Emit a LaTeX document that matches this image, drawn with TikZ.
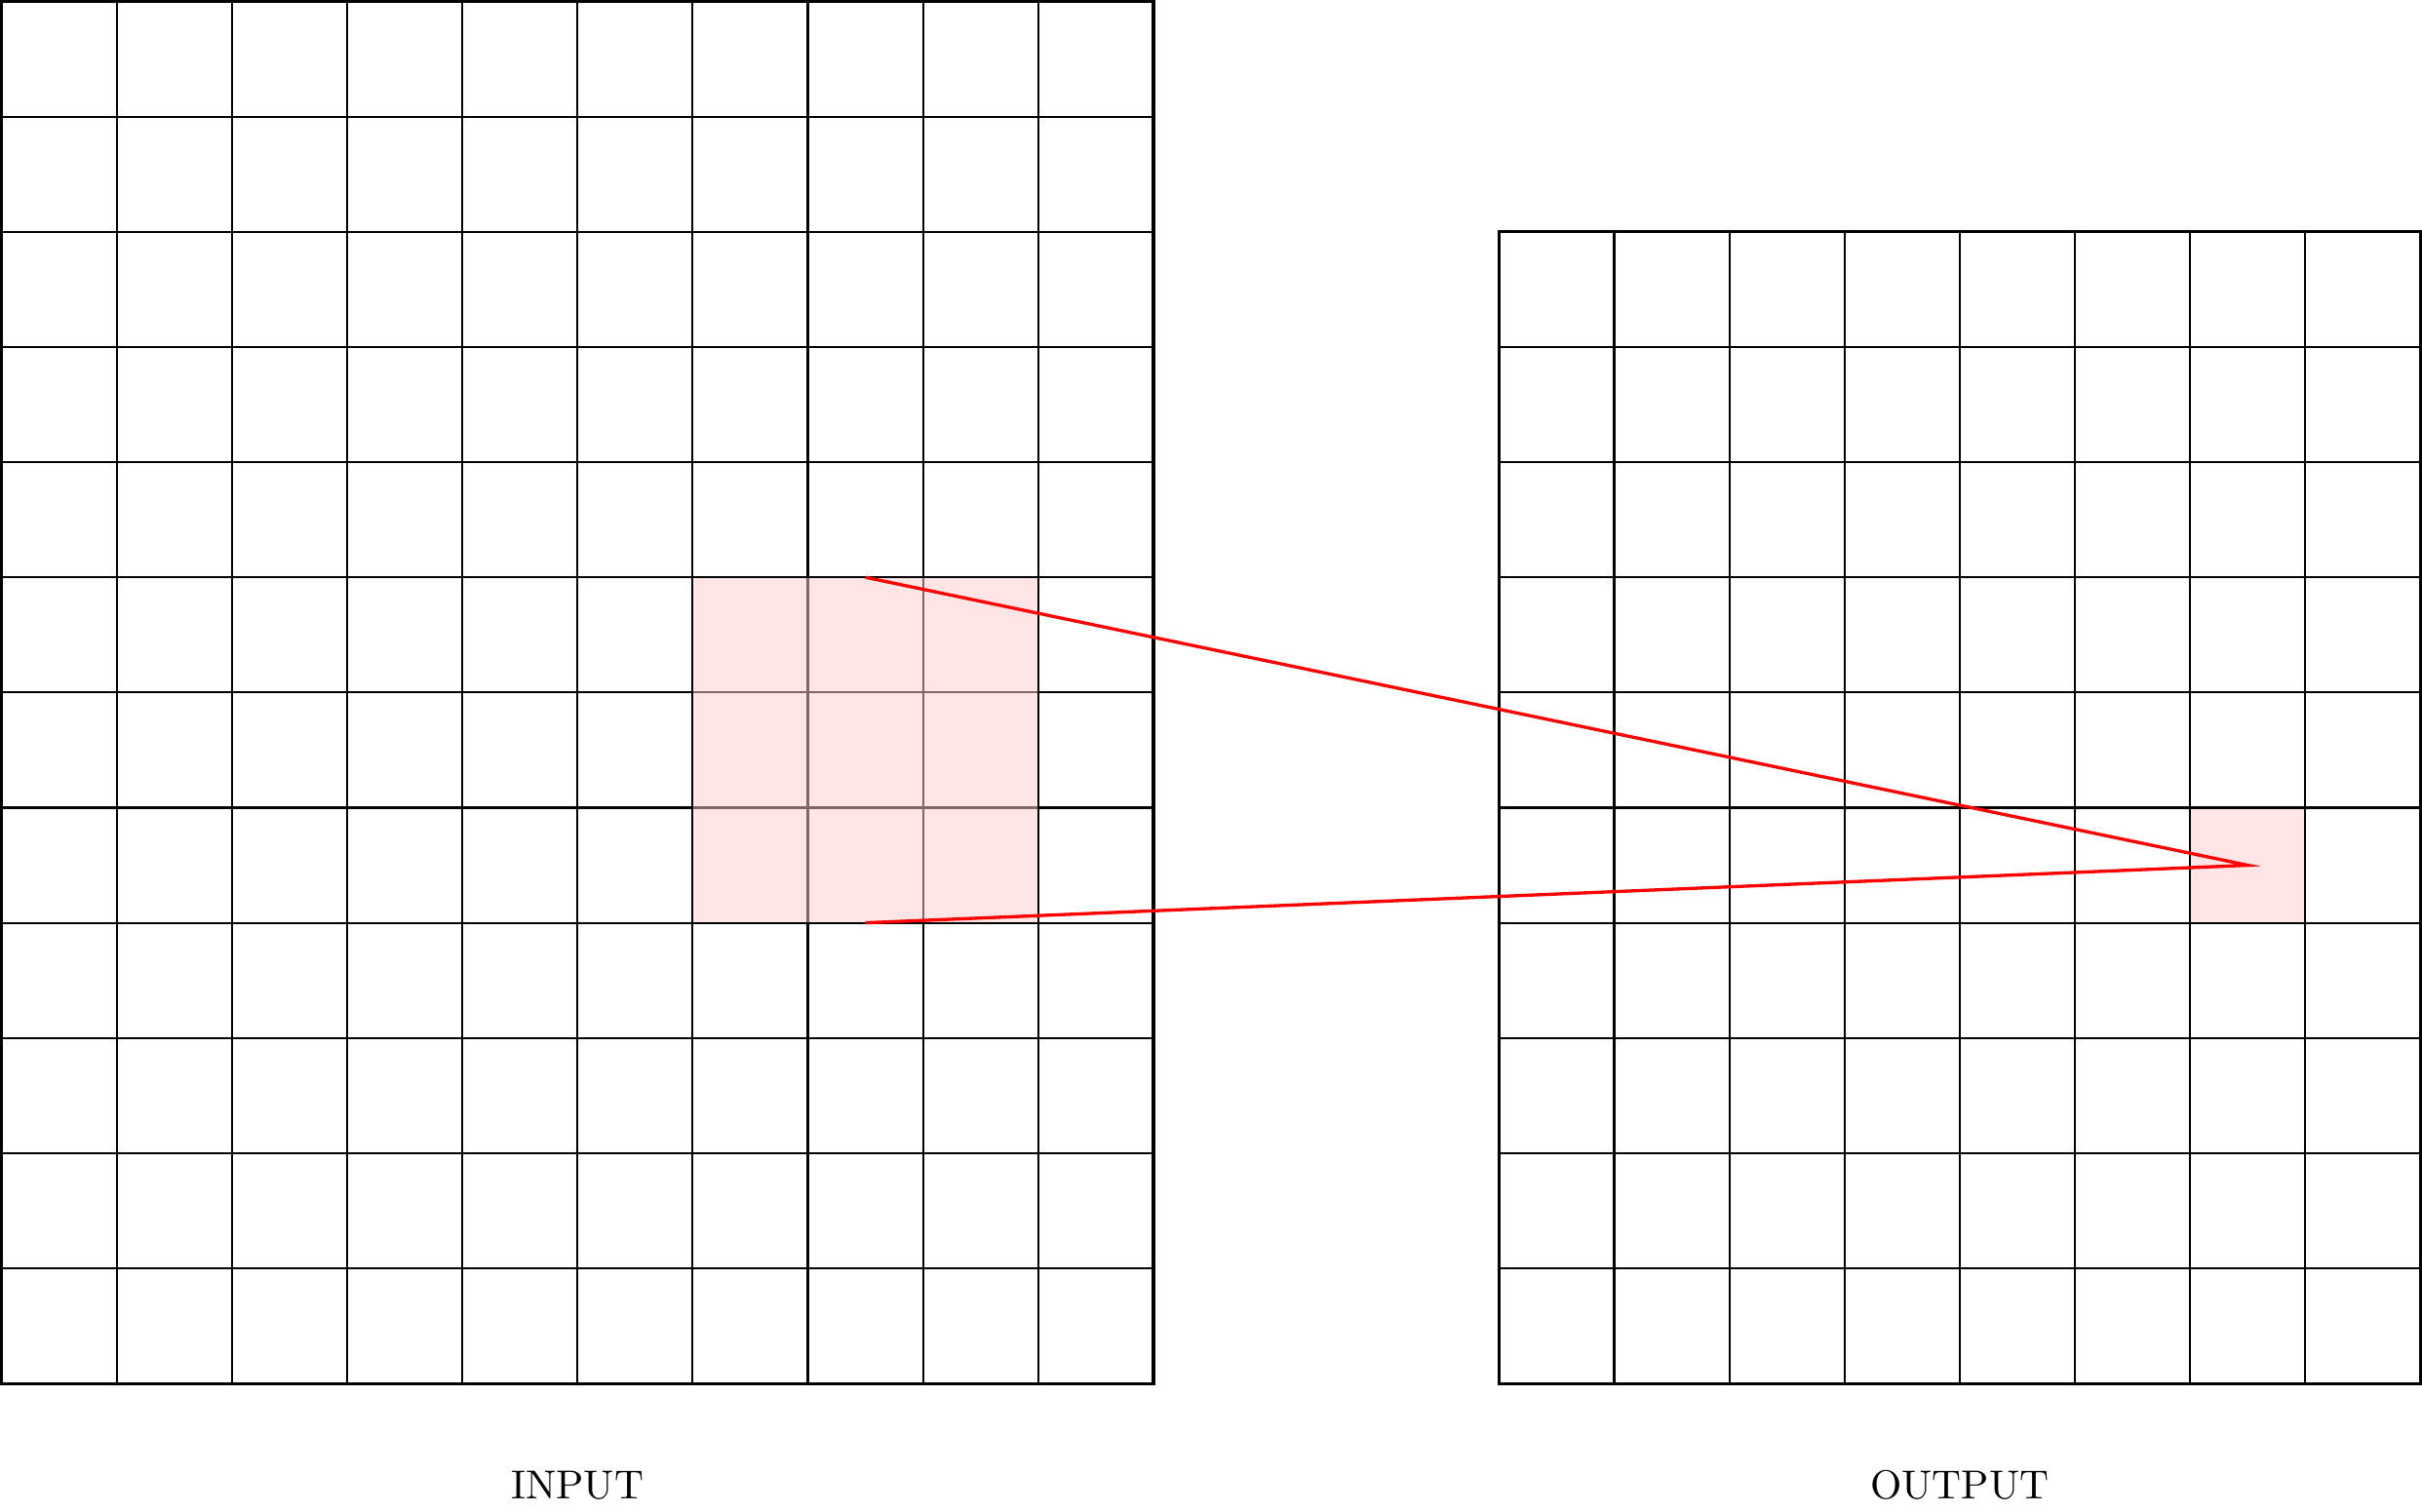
\documentclass[tikz,border=0pt]{standalone}
\begin{document}
\begin{tikzpicture}[
  innerline/.style={line width=0.5pt, black},
  outerline/.style={line width=0.75pt, black},
  hilite/.style={fill=red!20, fill opacity=0.5, draw=black, line width=0.5pt},
  redline/.style={red, line width=0.8pt},
  gridlabel/.style={anchor=base, inner sep=0pt, font=\normalsize}
]
\useasboundingbox (-0.013,-1.114) rectangle (21.013,12.013);
% input grid
\draw[innerline] (0,0) grid[step=1] (10,12);
\draw[outerline] (0,0) rectangle (10,12);
% output grid
\draw[innerline] (13,0) grid[step=1] (21,10);
\draw[outerline] (13,0) rectangle (21,10);
% highlights
\draw[hilite] (6,4) rectangle (9,7);
\draw[hilite] (19,4) rectangle (20,5);
% connector
\coordinate (ktop) at (7.5,7);
\coordinate (kbot) at (7.5,4);
\coordinate (tip) at (19.5,4.5);
\draw[redline] (ktop) -- (tip) -- (kbot);
% labels
\node[gridlabel] (inlabel) at (5,-1.0) {INPUT};
\node[gridlabel] (outlabel) at (17,-1.0) {OUTPUT};
\end{tikzpicture}
\end{document}
